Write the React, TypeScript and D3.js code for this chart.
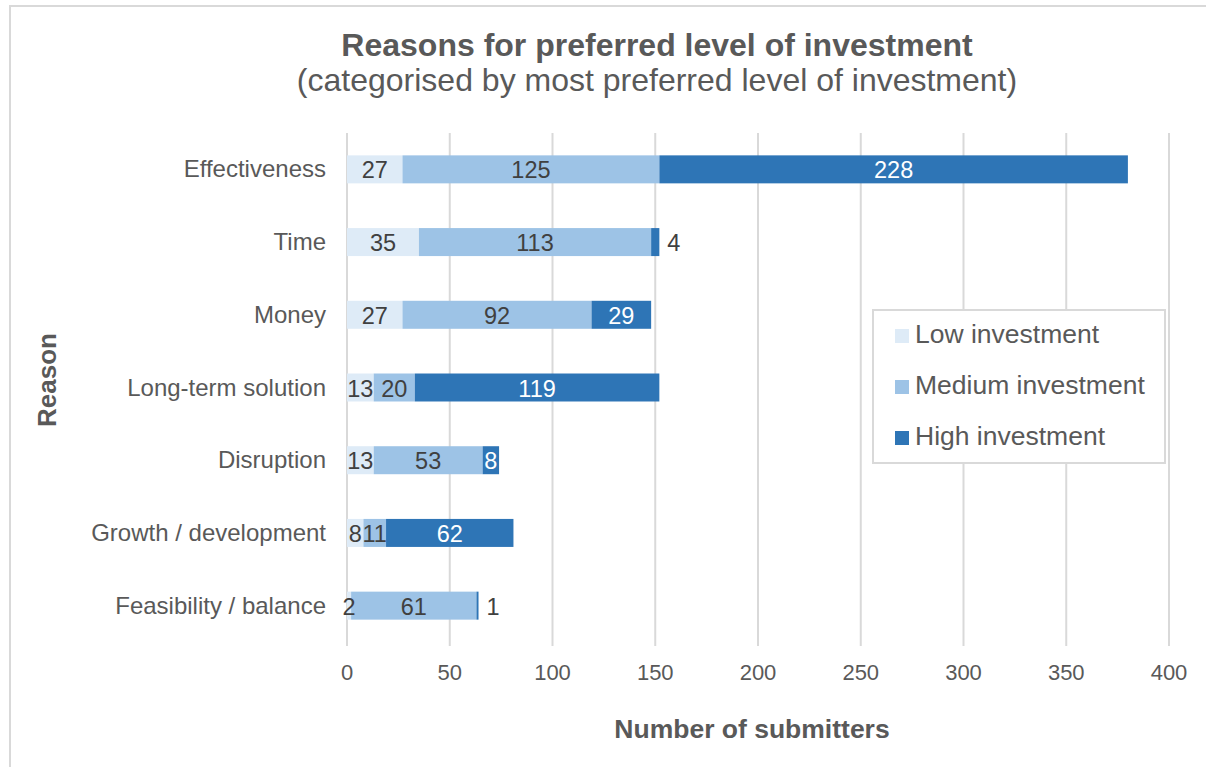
import { scaleLinear, scaleBand } from "d3";

const categories = [
  "Effectiveness",
  "Time",
  "Money",
  "Long-term solution",
  "Disruption",
  "Growth / development",
  "Feasibility / balance",
];
const lowValues = [27, 35, 27, 13, 13, 8, 2];
const mediumValues = [125, 113, 92, 20, 53, 11, 61];
const highValues = [228, 4, 29, 119, 8, 62, 1];
const seriesNames = ["Low investment", "Medium investment", "High investment"];
const xTicks = [0, 50, 100, 150, 200, 250, 300, 350, 400];

const colors = ["#DEEBF7", "#9DC3E6", "#2E75B6"];
const labelColors = ["#404040", "#404040", "#ffffff"];
const textColor = "#595959";
const font = "'Liberation Sans', Arial, sans-serif";

const width = 1206;
const height = 767;
const left = 347;
const right = 1169;
const top = 133;
const bottom = 642;

const App = () => {
  const x = scaleLinear().domain([0, 400]).range([left, right]);
  const y = scaleBand<string>()
    .domain(categories)
    .range([top, bottom])
    .paddingInner(0.615)
    .paddingOuter(0.3075);

  const series = [lowValues, mediumValues, highValues];
  const bh = y.bandwidth();

  // stacked segments per category
  const segs = categories.flatMap((c, i) => {
    let acc = 0;
    return series.map((s, k) => {
      const v = s[i];
      const x0 = x(acc);
      const x1 = x(acc + v);
      acc += v;
      return { c, k, v, x0, x1, y: y(c)! };
    });
  });

  return (
    <svg
      width={width}
      height={height}
      style={{ position: "absolute", left: 0, top: 0, display: "block" }}
      fontFamily={font}
    >
      <rect x={0} y={0} width={width} height={height} fill="#fff" />
      <rect x={10} y={6} width={width + 20} height={height + 20} fill="none" stroke="#d9d9d9" strokeWidth={2} />

      <text x={657} y={56} textAnchor="middle" fontSize={32} fontWeight="bold" fill={textColor}>
        Reasons for preferred level of investment
      </text>
      <text x={657} y={91} textAnchor="middle" fontSize={32} fill={textColor}>
        (categorised by most preferred level of investment)
      </text>

      {xTicks.map((t) => (
        <g key={t}>
          <line x1={x(t)} x2={x(t)} y1={top} y2={bottom + 4} stroke="#d9d9d9" strokeWidth={2} />
          <text x={x(t)} y={680} textAnchor="middle" fontSize={22} fill={textColor}>
            {t}
          </text>
        </g>
      ))}

      {categories.map((c) => (
        <text key={c} x={326} y={y(c)! + bh / 2 + 8} textAnchor="end" fontSize={24} fill={textColor}>
          {c}
        </text>
      ))}

      {segs.map((d) => (
        <rect key={`r-${d.c}-${d.k}`} x={d.x0} y={d.y} width={d.x1 - d.x0} height={bh} fill={colors[d.k]} />
      ))}

      {segs.map((d) => {
        const outside = d.k === 2 && d.x1 - d.x0 < 12;
        return (
          <text
            key={`t-${d.c}-${d.k}`}
            x={outside ? d.x1 + 8 : (d.x0 + d.x1) / 2}
            y={d.y + bh / 2 + 9}
            textAnchor={outside ? "start" : "middle"}
            fontSize={23.5}
            fill={outside ? "#404040" : labelColors[d.k]}
          >
            {d.v}
          </text>
        );
      })}

      <text x={752} y={738} textAnchor="middle" fontSize={26.5} fontWeight="bold" fill={textColor}>
        Number of submitters
      </text>
      <text
        transform={`translate(56, 380) rotate(-90)`}
        textAnchor="middle"
        fontSize={26}
        fontWeight="bold"
        fill={textColor}
      >
        Reason
      </text>

      <rect x={873} y={310} width={292} height={153} fill="#fff" stroke="#d9d9d9" strokeWidth={2} />
      {seriesNames.map((n, k) => (
        <g key={n}>
          <rect x={895} y={329 + k * 51} width={14} height={14} fill={colors[k]} />
          <text x={915} y={343 + k * 51} fontSize={26.5} fill={textColor}>
            {n}
          </text>
        </g>
      ))}
    </svg>
  );
};

export default App;
